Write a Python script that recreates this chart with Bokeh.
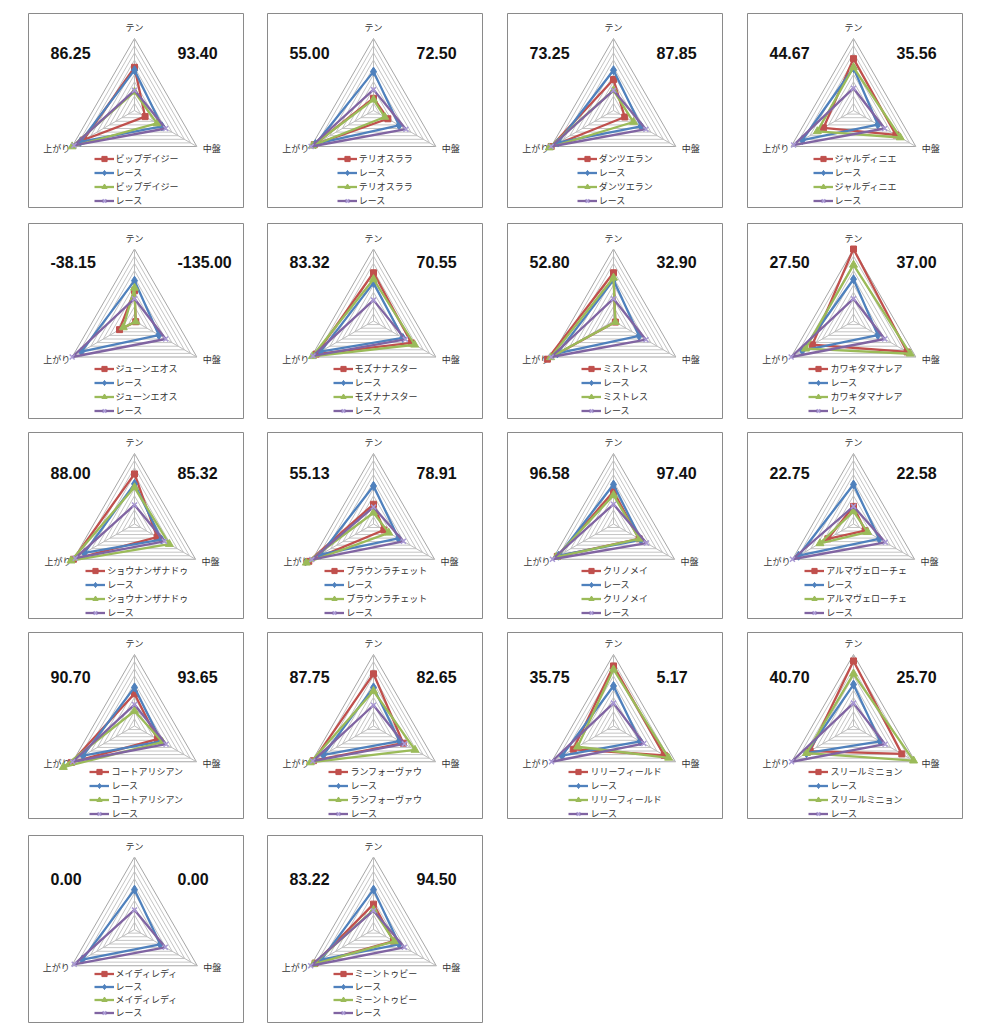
import math
from bokeh.plotting import figure
from bokeh.layouts import column, row
from bokeh.models import Range1d, ColumnDataSource, Legend, LegendItem
from bokeh.core.properties import value
from bokeh.embed import file_html
from bokeh.resources import INLINE

# ---------------- data ----------------
AXES = ["テン", "中盤", "上がり"]
HORSES = ["ビップデイジー", "テリオスララ", "ダンツエラン", "ジャルディニエ",
          "ジューンエオス", "モズナナスター", "ミストレス", "カワキタマナレア",
          "ショウナンザナドゥ", "ブラウンラチェット", "クリノメイ", "アルマヴェローチェ",
          "コートアリシアン", "ランフォーヴァウ", "リリーフィールド", "スリールミニョン",
          "メイディレディ", "ミーントゥビー"]
RACE_NAME = "レース"
SCORE_LEFT = [86.25, 55.00, 73.25, 44.67, -38.15, 83.32, 52.80, 27.50, 88.00,
              55.13, 96.58, 22.75, 90.70, 87.75, 35.75, 40.70, 0.00, 83.22]
SCORE_RIGHT = [93.40, 72.50, 87.85, 35.56, -135.00, 70.55, 32.90, 37.00, 85.32,
               78.91, 97.40, 22.58, 93.65, 82.65, 5.17, 25.70, 0.00, 94.50]

# values per panel on (テン, 中盤, 上がり)
HORSE_1 = [[6.0, 1.7, 8.2], [1.7, 2.3, 9.5], [4.3, 1.8, 10.0], [7.2, 6.8, 4.8],
           [4.2, 0.2, 2.4], [6.7, 6.1, 9.2], [6.7, 0.3, 10.6], [10.0, 8.6, 6.6],
           [7.1, 3.7, 10.0], [2.8, 1.7, 10.6], [4.6, 4.2, 9.2], [2.5, 1.9, 4.2],
           [4.5, 3.7, 10.2], [7.3, 4.8, 9.7], [8.4, 8.2, 6.5], [9.1, 7.8, 7.0],
           [None, None, None], [3.5, 3.2, 9.3]]
RACE_1 = [[5.6, 4.4, 8.7], [5.4, 4.1, 9.3], [5.6, 4.4, 8.9], [5.9, 3.9, 8.2],
          [5.6, 3.9, 8.5], [5.3, 4.7, 8.5], [5.7, 4.1, 9.0], [5.8, 3.9, 8.2],
          [5.7, 4.4, 8.2], [5.4, 4.1, 8.7], [5.6, 4.5, 9.0], [5.6, 4.2, 9.0],
          [5.4, 4.3, 8.3], [5.4, 4.2, 8.1], [5.6, 4.3, 8.3], [5.8, 4.3, 7.6],
          [5.5, 4.1, 8.3], [5.5, 4.1, 8.3]]
HORSE_2 = [[2.6, 3.6, 10.0], [1.5, 1.8, 9.8], [2.8, 3.2, 10.3], [6.0, 7.5, 5.8],
           [4.6, 0.2, 1.8], [5.8, 6.6, 9.8], [6.0, 0.3, 10.1], [7.8, 9.1, 7.7],
           [5.2, 5.7, 10.4], [1.6, 2.5, 11.0], [4.1, 4.2, 9.4], [1.8, 2.3, 5.5],
           [2.1, 4.5, 11.5], [4.9, 6.7, 10.2], [7.9, 8.9, 5.8], [7.3, 9.7, 7.6],
           [None, None, None], [2.7, 3.3, 9.6]]
RACE_2 = [[2.8, 5.0, 9.7], [2.9, 5.2, 10.0], [2.8, 5.2, 10.0], [3.1, 5.0, 9.6],
          [3.1, 5.0, 10.0], [2.9, 5.1, 9.7], [3.1, 5.2, 10.0], [3.1, 5.0, 10.0],
          [2.7, 4.9, 9.7], [2.4, 4.9, 10.1], [2.8, 5.4, 10.0], [2.5, 5.2, 10.0],
          [3.0, 5.1, 10.0], [2.9, 5.0, 9.8], [3.2, 4.9, 10.0], [3.2, 5.1, 10.0],
          [2.7, 4.9, 9.6], [2.6, 4.9, 10.0]]
RING_LEVELS = [1, 2, 3, 4, 5, 6, 7, 8, 9, 10]
AXIS_MAX = 10

# ---------------- layout / style ----------------
FRAME_W = 215
CX = 106
ANGLES = [90, -30, 210]
COL_LEFT = [28, 20, 20, 20]
COL_RIGHT = [4, 5, 5, 5]
ROW_TOP = [13, 6, 5, 5, 6]
ROW_FRAME_H = [194, 195, 186, 186, 187]
ROW_BOTTOM = [10, 9, 9, 11, 1]
ROW_CENTER = [97, 97.5, 91.5, 93.5, 94]
ROW_R = [72, 72, 70.5, 71.5, 72.5]
ROW_LEGEND = [145, 145, 138, 139, 138]
ROW_LEG_SP = [1, 1, 1, 1, 0]
ROW_NUM_Y = [39, 38, 40, 44, 43]

SERIES_STYLE = [
    dict(color="#C0504D", marker="square", size=6, mcolor="#C0504D"),
    dict(color="#4F81BD", marker="diamond", size=9, mcolor="#4F81BD"),
    dict(color="#9BBB59", marker="triangle", size=8, mcolor="#9BBB59"),
    dict(color="#8064A2", marker="x", size=7, mcolor="#A999D4"),
]
JP_NAME = "Noto Sans CJK JP"
JP = value(JP_NAME)


def polar(vals, scale):
    xs, ys = [], []
    for v, a in zip(vals, ANGLES):
        if v is None:
            xs.append(float("nan")); ys.append(float("nan"))
            continue
        r = v / AXIS_MAX * scale
        xs.append(r * math.cos(math.radians(a)))
        ys.append(r * math.sin(math.radians(a)))
    return xs, ys


def make_panel(i):
    ri, ci = divmod(i, 4)
    H = ROW_FRAME_H[ri]
    cy = ROW_CENTER[ri]
    top = ROW_TOP[ri]
    bottom = ROW_BOTTOM[ri]
    rad = ROW_R[ri]
    p = figure(width=COL_LEFT[ci] + FRAME_W + COL_RIGHT[ci], height=top + H + bottom,
               output_backend="svg", toolbar_location=None,
               x_range=Range1d(-CX, FRAME_W - CX), y_range=Range1d(cy - H, cy),
               x_axis_location=None, y_axis_location=None,
               min_border_left=COL_LEFT[ci], min_border_right=COL_RIGHT[ci],
               min_border_top=top, min_border_bottom=bottom)
    p.grid.visible = False
    p.outline_line_color = "#8a8a8a"
    p.outline_line_width = 1
    p.background_fill_color = "white"
    p.border_fill_color = "white"

    # grid rings
    rx, ry = [], []
    for lv in RING_LEVELS:
        xs, ys = polar([lv] * 3, rad)
        rx.append(xs + [xs[0]]); ry.append(ys + [ys[0]])
    p.multi_line(rx[:-1], ry[:-1], line_color="#c4c4c4", line_width=1)
    p.multi_line(rx[-1:], ry[-1:], line_color="#a6a6a6", line_width=1)
    vx, vy = polar([AXIS_MAX] * 3, rad)
    p.segment(x0=[0, 0, 0], y0=[0, 0, 0], x1=vx, y1=vy, line_color="#bdbdbd", line_width=1)

    # axis labels
    lab = ColumnDataSource(dict(
        x=[0, vx[1] + 6, vx[2] - 2],
        y=[vy[0] + 11, vy[1] - 2, vy[2] - 2],
        t=AXES, align=["center", "left", "right"]))
    p.text(x="x", y="y", text="t", source=lab, text_align="align",
           text_baseline="middle", text_font=JP, text_font_size="9px",
           text_color="#333333")

    # series
    items = []
    data = [HORSE_1[i], RACE_1[i], HORSE_2[i], RACE_2[i]]
    names = [HORSES[i], RACE_NAME, HORSES[i], RACE_NAME]
    for vals, nm, st in zip(data, names, SERIES_STYLE):
        xs, ys = polar(vals, rad)
        lr = p.line(xs + [xs[0]], ys + [ys[0]], line_color=st["color"], line_width=2.3)
        sr = p.scatter(xs, ys, marker=st["marker"], size=st["size"],
                       fill_color=st["mcolor"], line_color=st["mcolor"],
                       line_width=1.5 if st["marker"] == "x" else 1)
        items.append(LegendItem(label=value(nm), renderers=[lr, sr]))

    sp = ROW_LEG_SP[ri]
    item_h = 13
    leg_top = ROW_LEGEND[ri] - item_h / 2
    leg_h = 4 * item_h + 3 * sp
    lx = CX - (22 + 8.4 * len(HORSES[i])) / 2
    ly = H - (leg_top + leg_h)
    legend = Legend(items=items, location=(lx, ly), padding=0, spacing=sp, margin=0,
                    glyph_width=20, glyph_height=item_h, label_height=item_h,
                    label_standoff=2, label_text_font=JP_NAME, label_text_font_size="9px",
                    label_text_color="#333333", label_text_baseline="middle",
                    background_fill_alpha=0, border_line_alpha=0)
    p.add_layout(legend)

    # score numbers
    ny = cy - ROW_NUM_Y[ri]
    num = ColumnDataSource(dict(
        x=[22 - CX, 149 - CX], y=[ny, ny],
        t=[f"{SCORE_LEFT[i]:.2f}", f"{SCORE_RIGHT[i]:.2f}"]))
    p.text(x="x", y="y", text="t", source=num, text_align="left",
           text_baseline="middle", text_font=value("Liberation Sans"),
           text_font_style="bold", text_font_size="16px", text_color="#111111")
    return p


panels = [make_panel(i) for i in range(len(HORSES))]
rows = []
for r0 in range(0, len(panels), 4):
    rows.append(row(*panels[r0:r0 + 4], spacing=0))
layout = column(*rows, spacing=0)

open("out.html", "w").write(file_html(layout, INLINE))
